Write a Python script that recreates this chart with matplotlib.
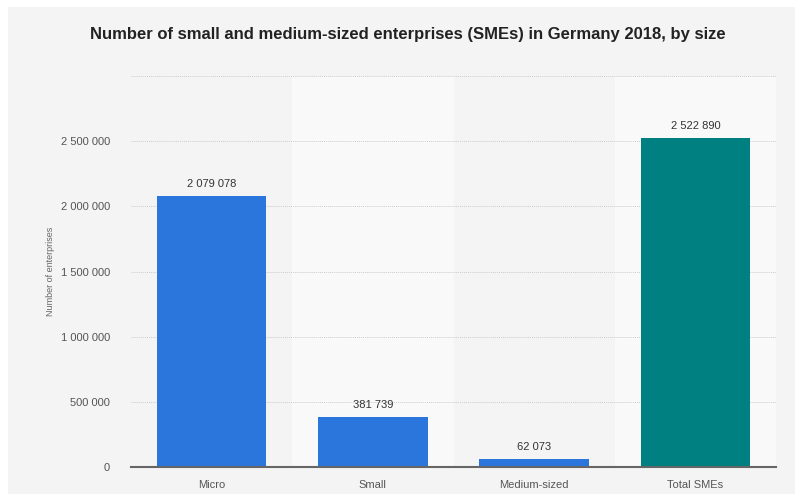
import matplotlib.pyplot as plt
from matplotlib.patches import Rectangle
from matplotlib.ticker import FuncFormatter

categories = ['Micro', 'Small', 'Medium-sized', 'Total SMEs']
values = [2079078, 381739, 62073, 2522890]
bar_colors = ['#2a76dd', '#2a76dd', '#2a76dd', '#008080']

plt.rcParams['font.family'] = ['Liberation Sans', 'DejaVu Sans']

fig = plt.figure(figsize=(7.95, 4.94), dpi=100)
fig.patch.set_facecolor('white')
# grey card behind the chart
fig.patches.append(Rectangle((8 / 795, 0), 1, 1 - 7 / 494, transform=fig.transFigure,
                             facecolor='#f4f4f4', edgecolor='none', zorder=-10))

ax = fig.add_axes([131 / 795, 1 - 467 / 494, (776 - 131) / 795, (467 - 76) / 494])
ax.set_facecolor('none')

x = range(len(categories))
# alternating column bands
for i in x:
    if i % 2 == 1:
        ax.axvspan(i - 0.5, i + 0.5, color='#f9f9f9', zorder=0, lw=0)

bars = ax.bar(x, values, width=0.68, color=bar_colors, zorder=3)

def fmt(v, pos=None):
    return '{:,}'.format(int(v)).replace(',', ' ')

for b, v in zip(bars, values):
    ax.text(b.get_x() + b.get_width() / 2, v + 55000, fmt(v), ha='center', va='bottom',
            fontsize=8, color='#333333', zorder=4)

ax.set_xlim(-0.5, len(categories) - 0.5)
ax.set_ylim(0, 3000000)
ax.set_yticks([0, 500000, 1000000, 1500000, 2000000, 2500000, 3000000])
ax.yaxis.set_major_formatter(FuncFormatter(lambda v, p: '' if v >= 3000000 else fmt(v)))
ax.set_xticks(list(x))
ax.set_xticklabels(categories)
ax.tick_params(axis='both', length=0, labelsize=8, colors='#555555')
ax.tick_params(axis='y', pad=15)
ax.tick_params(axis='x', pad=9)

ax.grid(axis='y', color='#cccccc', linestyle=(0, (1, 1)), linewidth=0.7, zorder=1)
for s in ['top', 'right', 'left']:
    ax.spines[s].set_visible(False)
ax.spines['bottom'].set_color('#666666')
ax.spines['bottom'].set_linewidth(1.5)
ax.spines['bottom'].set_zorder(5)

ax.set_ylabel('Number of enterprises', fontsize=6.5, color='#666666', labelpad=4)

fig.text(408 / 795, 1 - 35 / 494, 'Number of small and medium-sized enterprises (SMEs) in Germany 2018, by size',
         ha='center', va='center', fontsize=12, fontweight='bold', color='#222222')

fig.savefig('out.png', dpi=100)
